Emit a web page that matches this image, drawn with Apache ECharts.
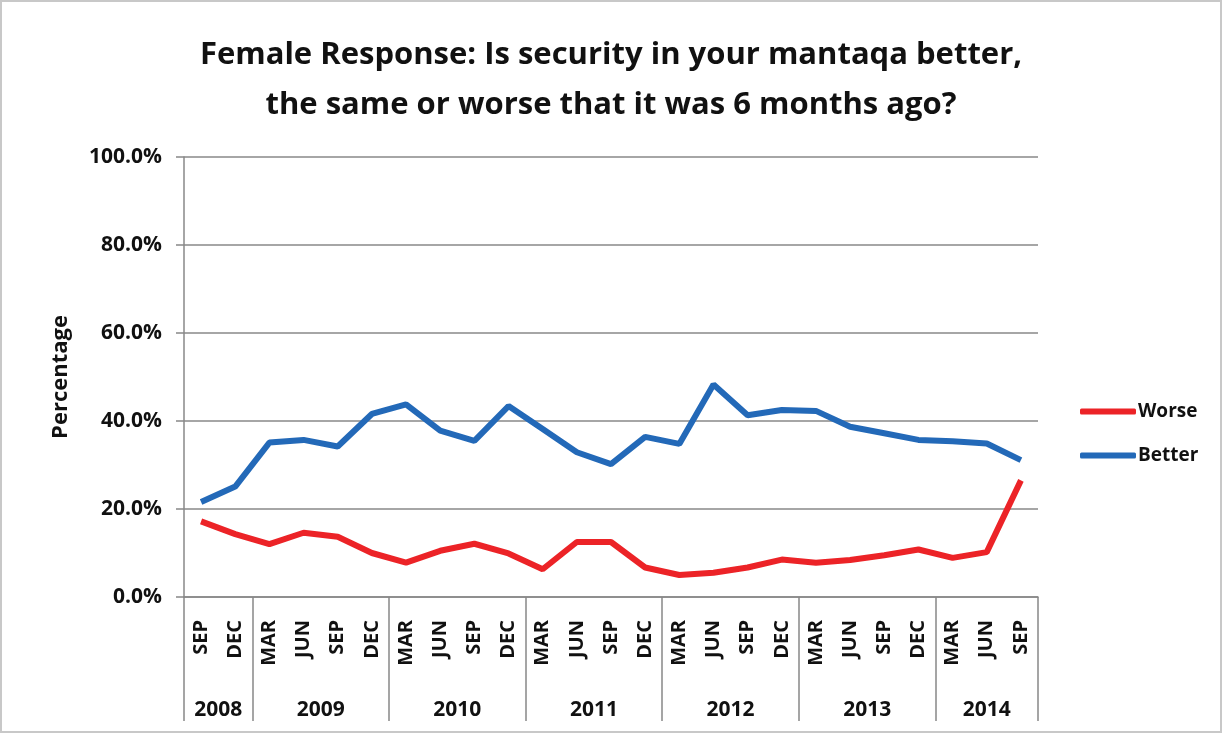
<!DOCTYPE html>
<html>
<head>
<meta charset="utf-8">
<script src="https://cdn.jsdelivr.net/npm/echarts@6/dist/echarts.min.js"></script>
<style>
  html, body { margin: 0; padding: 0; background: #fff; }
  #chart { width: 1218px; height: 729px; border: 2px solid #c8c8c8; }
</style>
</head>
<body>
<div id="chart"></div>
<script>
var months = ['SEP', 'DEC',
  'MAR', 'JUN', 'SEP', 'DEC',
  'MAR', 'JUN', 'SEP', 'DEC',
  'MAR', 'JUN', 'SEP', 'DEC',
  'MAR', 'JUN', 'SEP', 'DEC',
  'MAR', 'JUN', 'SEP', 'DEC',
  'MAR', 'JUN', 'SEP'];
var monthYears = ['2008', '2008',
  '2009', '2009', '2009', '2009',
  '2010', '2010', '2010', '2010',
  '2011', '2011', '2011', '2011',
  '2012', '2012', '2012', '2012',
  '2013', '2013', '2013', '2013',
  '2014', '2014', '2014'];
var worse = [17.2, 14.3, 12.0, 14.6, 13.7, 10.0, 7.8, 10.5, 12.1, 9.9, 6.3, 12.5, 12.5,
  6.7, 5.0, 5.5, 6.7, 8.5, 7.8, 8.4, 9.5, 10.8, 8.9, 10.2, 26.5];
var better = [21.6, 25.1, 35.1, 35.7, 34.2, 41.6, 43.8, 37.8, 35.5, 43.4, 38.2, 32.9, 30.2,
  36.4, 34.8, 48.3, 41.3, 42.5, 42.3, 38.7, 37.2, 35.7, 35.4, 34.9, 31.1];

// year groups: centre of each group and the boundaries between them
var yearCentres = [], yearBounds = [-0.5], yearAt = {};
var start = 0;
for (var i = 1; i <= monthYears.length; i++) {
  if (i === monthYears.length || monthYears[i] !== monthYears[start]) {
    var c = (start + i - 1) / 2;
    yearCentres.push(c);
    yearAt[c] = monthYears[start];
    yearBounds.push(i - 0.5);
    start = i;
  }
}

var font = 'Open Sans';
var myChart = echarts.init(document.getElementById('chart'));

var option = {
  animation: false,
  title: {
    text: 'Female Response: Is security in your mantaqa better,\nthe same or worse that it was 6 months ago?',
    left: 'center',
    top: 23,
    textStyle: {
      fontFamily: font,
      fontWeight: 'bold',
      fontSize: 31,
      lineHeight: 50,
      color: '#111'
    }
  },
  legend: {
    orient: 'vertical',
    left: 1073,
    top: 395,
    itemGap: 25,
    itemWidth: 56,
    itemHeight: 6,
    icon: 'roundRect',
    textStyle: { fontFamily: font, fontWeight: 'bold', fontSize: 19, color: '#111', padding: [0, 0, 0, -3] },
    data: ['Worse', 'Better']
  },
  grid: { left: 182, right: 182, top: 155, bottom: 134 },
  xAxis: [
    {
      type: 'category',
      data: months,
      boundaryGap: true,
      axisLine: { lineStyle: { color: '#888', width: 1.5 } },
      axisTick: { show: false },
      axisLabel: {
        rotate: 90,
        margin: 23,
        interval: 0,
        fontFamily: font,
        fontWeight: 'bold',
        fontSize: 20,
        color: '#111'
      }
    },
    {
      type: 'value',
      position: 'bottom',
      min: -0.5,
      max: months.length - 0.5,
      axisLine: { show: false },
      splitLine: { show: false },
      axisTick: {
        show: true,
        customValues: yearBounds,
        length: 124,
        lineStyle: { color: '#888', width: 1.5 }
      },
      axisLabel: {
        customValues: yearCentres,
        margin: 103,
        fontFamily: font,
        fontWeight: 'bold',
        fontSize: 21,
        color: '#111',
        formatter: function (v) { return yearAt[v] || ''; }
      }
    }
  ],
  yAxis: {
    type: 'value',
    min: 0,
    max: 100,
    interval: 20,
    name: 'Percentage',
    nameLocation: 'middle',
    nameGap: 112,
    nameTextStyle: { fontFamily: font, fontWeight: 'bold', fontSize: 22, color: '#111' },
    axisLine: { show: true, onZero: false, lineStyle: { color: '#888', width: 1.5 } },
    axisTick: { show: true, length: 8, lineStyle: { color: '#888', width: 1.5 } },
    splitLine: { lineStyle: { color: '#888', width: 1.5 } },
    axisLabel: {
      margin: 22,
      fontFamily: font,
      fontWeight: 'bold',
      fontSize: 21,
      color: '#111',
      formatter: function (v) { return v.toFixed(1) + '%'; }
    }
  },
  series: [
    {
      name: 'Worse',
      type: 'line',
      data: worse,
      symbol: 'none',
      color: '#ec2327',
      lineStyle: { width: 6, color: '#ec2327' }
    },
    {
      name: 'Better',
      type: 'line',
      data: better,
      symbol: 'none',
      color: '#2369b8',
      lineStyle: { width: 6, color: '#2369b8' }
    }
  ]
};

myChart.setOption(option);
</script>
</body>
</html>
